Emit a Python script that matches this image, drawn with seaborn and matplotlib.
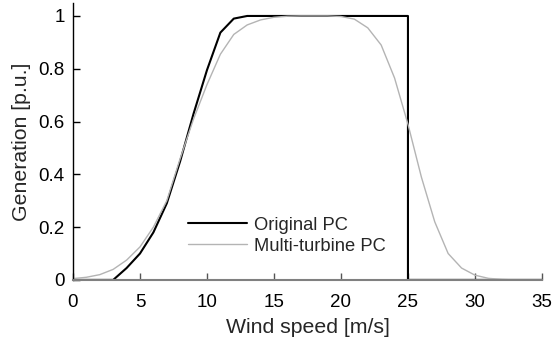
import numpy as np
import pandas as pd
import matplotlib
matplotlib.use("Agg")
import matplotlib.pyplot as plt
import seaborn as sns

# Wind speed grid [m/s]
wind_speed = list(range(0, 36))

# Single-turbine power curve (cut-in 3 m/s, rated ~13 m/s, cut-out 25 m/s)
original_ws = list(range(0, 26)) + [25] + list(range(26, 36))
original_pc = [0, 0, 0, 0, 0.045, 0.10, 0.18, 0.29, 0.45, 0.63,
               0.795, 0.937, 0.99, 1, 1, 1, 1, 1, 1, 1,
               1, 1, 1, 1, 1, 1,
               0, 0, 0, 0, 0, 0, 0, 0, 0, 0, 0]

# Aggregated multi-turbine power curve
multi_pc = [0.005, 0.01, 0.02, 0.04, 0.075, 0.125, 0.20, 0.30, 0.46, 0.61,
            0.74, 0.855, 0.93, 0.966, 0.985, 0.995, 0.999, 1, 1, 1,
            0.998, 0.988, 0.955, 0.89, 0.765, 0.59, 0.39, 0.22, 0.10, 0.045,
            0.018, 0.006, 0.002, 0, 0, 0]

x_ticks = [0, 5, 10, 15, 20, 25, 30, 35]
y_ticks = [0, 0.2, 0.4, 0.6, 0.8, 1]
y_tick_labels = ["0", "0.2", "0.4", "0.6", "0.8", "1"]

sns.set_style("ticks")
plt.rcParams["font.family"] = ["Liberation Sans", "DejaVu Sans"]

fig = plt.figure(figsize=(5.53, 3.46), dpi=100)
ax = fig.add_axes([0.132, 0.191, 0.848, 0.801])

df_orig = pd.DataFrame({"ws": original_ws, "pc": original_pc})
df_multi = pd.DataFrame({"ws": wind_speed, "pc": multi_pc})

sns.lineplot(data=df_orig, x="ws", y="pc", ax=ax, sort=False, estimator=None,
             color="black", linewidth=1.5, label="Original PC")
sns.lineplot(data=df_multi, x="ws", y="pc", ax=ax, sort=False, estimator=None,
             color="#b4b4b4", linewidth=1.0, label="Multi-turbine PC")

ax.set_xlim(0, 35)
ax.set_ylim(0, 1.05)
ax.set_xticks(x_ticks)
ax.set_yticks(y_ticks)
ax.set_yticklabels(y_tick_labels)
ax.tick_params(axis="both", direction="in", labelsize=13.5, length=5,
               width=1, colors="black")
ax.tick_params(axis="x", color="#555555", pad=10)
ax.tick_params(axis="y", pad=6)

for s in ("top", "right"):
    ax.spines[s].set_visible(False)
ax.spines["left"].set_color("black")
ax.spines["left"].set_linewidth(1.0)
ax.spines["bottom"].set_color("#808080")
ax.spines["bottom"].set_linewidth(1.5)

ax.set_xlabel("Wind speed [m/s]", fontsize=15.3, labelpad=5)
ax.set_ylabel("Generation [p.u.]", fontsize=15.3, labelpad=5)

leg = ax.legend(loc="upper left", bbox_to_anchor=(0.245, 0.228),
                frameon=False, fontsize=13.2, handlelength=3.2,
                handletextpad=0.4, labelspacing=0.22, borderpad=0,
                borderaxespad=0)

fig.savefig("out.png", dpi=100)
